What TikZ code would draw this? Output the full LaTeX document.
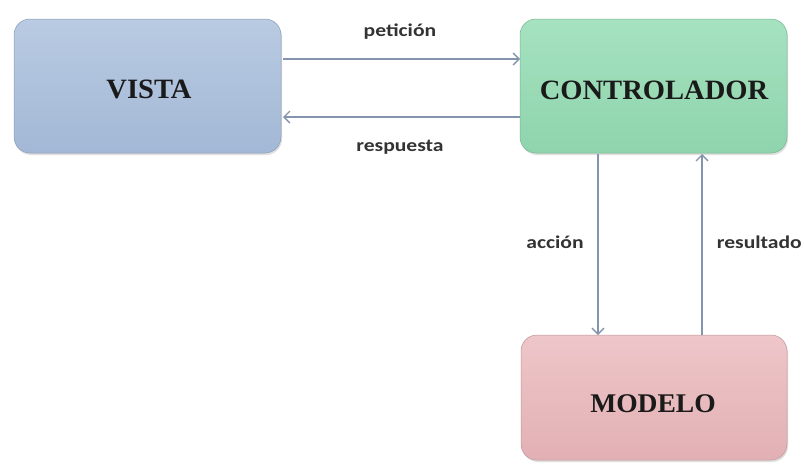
\documentclass[tikz,border=0pt]{standalone}
\usepackage{fontspec}
\usetikzlibrary{arrows.meta,shadows}
\setmainfont{Liberation Serif}
\newfontfamily\labelfont[FakeStretch=1.2]{Carlito}
\newfontfamily\boxfont[FakeStretch=1.02]{Liberation Serif}
\definecolor{vistaTop}{HTML}{B9CBE2}
\definecolor{vistaBot}{HTML}{A3B8D6}
\definecolor{ctrlTop}{HTML}{A6E2C0}
\definecolor{ctrlBot}{HTML}{8ED4AC}
\definecolor{modTop}{HTML}{EEC6C9}
\definecolor{modBot}{HTML}{E2B0B4}
\definecolor{linkcol}{HTML}{8494AC}
\definecolor{boxtext}{HTML}{1A1A1A}
\definecolor{labeltext}{HTML}{333333}
\begin{document}
\begin{tikzpicture}[x=1pt,y=-1pt,
  block/.style={rounded corners=16pt, draw=#1!85!black, line width=0.5pt,
    drop shadow={shadow xshift=1pt,shadow yshift=-2pt,opacity=0.25}},
  title/.style={font=\boxfont\bfseries\fontsize{28}{32}\selectfont, text=boxtext},
  link/.style={draw=linkcol, line width=1.8pt,
    -{Straight Barb[length=6pt,width=12pt,line width=1.3pt]}},
  tag/.style={font=\labelfont\bfseries\fontsize{18}{20}\selectfont, text=labeltext}]
  \useasboundingbox (0,0) rectangle (804,464);
  \fill[white] (0,0) rectangle (804,464);

  % the three components
  \path[block=vistaBot, top color=vistaTop, bottom color=vistaBot]
    (14,19) rectangle (281,153);
  \node[title] (vista) at (149,89) {VISTA};
  \path[block=ctrlBot, top color=ctrlTop, bottom color=ctrlBot]
    (520,19) rectangle (787,153);
  \node[title] (ctrl) at (654,90) {CONTROLADOR};
  \path[block=modBot, top color=modTop, bottom color=modBot]
    (521,335) rectangle (787,460);
  \node[title, font=\boxfont\bfseries\fontsize{27}{30}\selectfont] (modelo) at (653,404) {MODELO};

  % connection points on the box edges
  \coordinate (vR1) at (283,59);
  \coordinate (cL1) at (520,59);
  \coordinate (vR2) at (283,117);
  \coordinate (cL2) at (520,117);
  \coordinate (cB1) at (598,154);
  \coordinate (mT1) at (598,335);
  \coordinate (cB2) at (702,154);
  \coordinate (mT2) at (702,335);

  \draw[link] (vR1) -- (cL1);
  \draw[link] (cL2) -- (vR2);
  \draw[link] (cB1) -- (mT1);
  \draw[link] (mT2) -- (cB2);

  \node[tag] (lpet) at (400,32) {petición};
  \node[tag] (lres) at (400,147) {respuesta};
  \node[tag] (lacc) at (555,242) {acción};
  \node[tag, anchor=east, inner sep=1pt] (lrsl) at (803,242) {resultado};
\end{tikzpicture}
\end{document}
